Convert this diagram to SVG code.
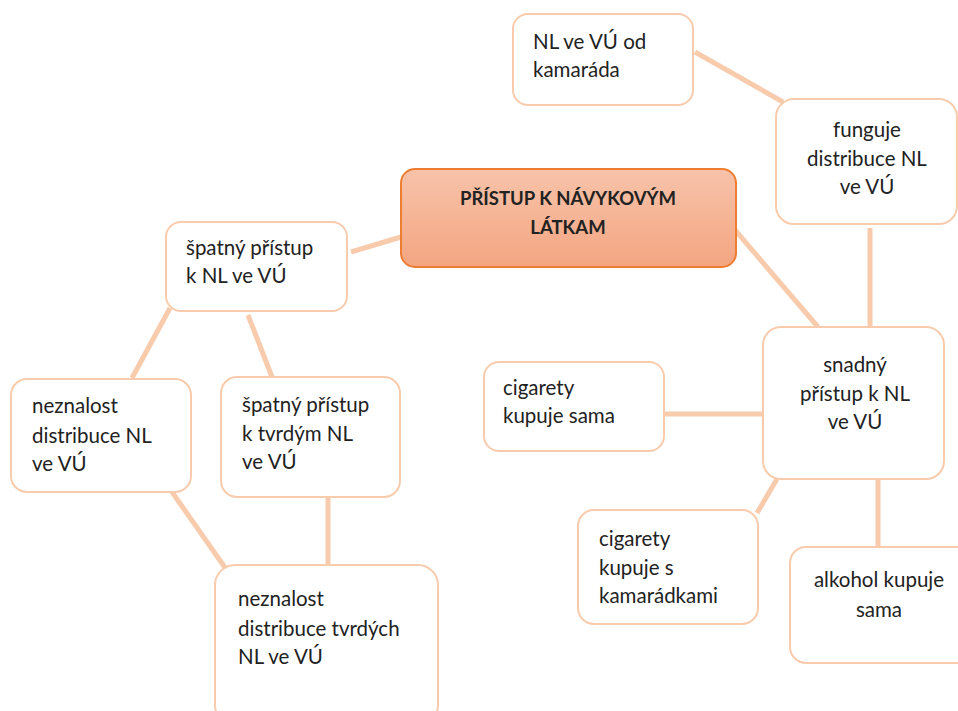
<svg xmlns="http://www.w3.org/2000/svg" width="958" height="711" viewBox="0 0 958 711">
<defs>
<linearGradient id="g" x1="0" y1="0" x2="0" y2="1">
<stop offset="0" stop-color="#f7c3aa"/>
<stop offset="1" stop-color="#f4a581"/>
</linearGradient>
<style>
.n{fill:#fff;stroke:#f8cbad;stroke-width:2}
.c{fill:url(#g);stroke:#ed7d31;stroke-width:2}
.t{font-family:Lato,"Liberation Sans",sans-serif;font-size:20.5px;fill:#222}
.m{text-anchor:middle}
.b{font-weight:bold;font-size:18.5px}
#connectors line{stroke:#f8cbad;stroke-width:5;stroke-linecap:butt}
</style>
</defs>
<rect width="958" height="711" fill="#fff"/>
<g id="connectors">
<line x1="695" y1="52" x2="783" y2="102"/>
<line x1="870" y1="228" x2="870" y2="327"/>
<line x1="735" y1="230" x2="818" y2="327"/>
<line x1="664" y1="414" x2="763" y2="414"/>
<line x1="777" y1="479" x2="757" y2="513"/>
<line x1="878" y1="479" x2="878" y2="548"/>
<line x1="351" y1="252" x2="401" y2="237"/>
<line x1="170" y1="308" x2="132" y2="378"/>
<line x1="248" y1="315" x2="272" y2="377"/>
<line x1="328" y1="497" x2="328" y2="565"/>
<line x1="172" y1="492" x2="226" y2="569"/>
</g>
<g id="central">
<rect class="c" x="401" y="169" width="335" height="98" rx="14"/>
<text class="t b m" x="568" y="205">PŘÍSTUP K NÁVYKOVÝM</text>
<text class="t b m" x="568" y="234">LÁTKAM</text>
</g>
<g id="n-kamarad">
<rect class="n" x="513" y="14" width="180" height="91" rx="15"/>
<text class="t" x="533" y="49">NL ve VÚ od</text>
<text class="t" x="533" y="77">kamaráda</text>
</g>
<g id="n-funguje">
<rect class="n" x="776" y="99" width="181" height="125" rx="18"/>
<text class="t m" x="867" y="137">funguje</text>
<text class="t m" x="867" y="166">distribuce NL</text>
<text class="t m" x="867" y="194">ve VÚ</text>
</g>
<g id="n-snadny">
<rect class="n" x="763" y="327" width="181" height="152" rx="18"/>
<text class="t m" x="855" y="372">snadný</text>
<text class="t m" x="855" y="401">přístup k NL</text>
<text class="t m" x="855" y="429">ve VÚ</text>
</g>
<g id="n-cig-sama">
<rect class="n" x="484" y="362" width="180" height="89" rx="15"/>
<text class="t" x="503" y="395">cigarety</text>
<text class="t" x="503" y="423">kupuje sama</text>
</g>
<g id="n-cig-kam">
<rect class="n" x="578" y="510" width="180" height="114" rx="16"/>
<text class="t" x="599" y="546">cigarety</text>
<text class="t" x="599" y="575">kupuje s</text>
<text class="t" x="599" y="603">kamarádkami</text>
</g>
<g id="n-alkohol">
<rect class="n" x="790" y="547" width="190" height="116" rx="16"/>
<text class="t m" x="879" y="587">alkohol kupuje</text>
<text class="t m" x="879" y="617">sama</text>
</g>
<g id="n-spatny">
<rect class="n" x="166" y="222" width="181" height="89" rx="15"/>
<text class="t" x="186" y="255">špatný přístup</text>
<text class="t" x="186" y="283">k NL ve VÚ</text>
</g>
<g id="n-neznalost">
<rect class="n" x="11" y="379" width="180" height="113" rx="16"/>
<text class="t" x="32" y="413">neznalost</text>
<text class="t" x="32" y="443">distribuce NL</text>
<text class="t" x="32" y="471">ve VÚ</text>
</g>
<g id="n-tvrdym">
<rect class="n" x="221" y="377" width="179" height="120" rx="16"/>
<text class="t" x="242" y="412">špatný přístup</text>
<text class="t" x="242" y="441">k tvrdým NL</text>
<text class="t" x="242" y="469">ve VÚ</text>
</g>
<g id="n-nez-tvrd">
<rect class="n" x="215" y="565" width="223" height="160" rx="20"/>
<text class="t" x="238" y="606">neznalost</text>
<text class="t" x="238" y="636">distribuce tvrdých</text>
<text class="t" x="238" y="664">NL ve VÚ</text>
</g>
</svg>
